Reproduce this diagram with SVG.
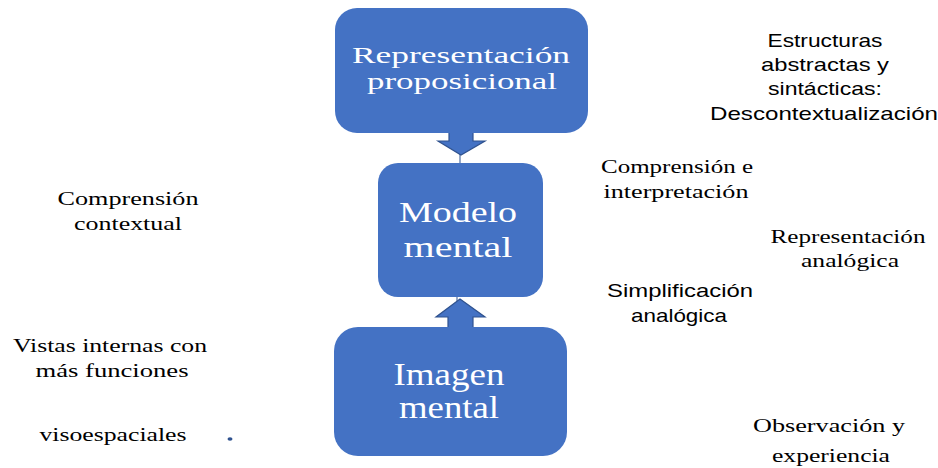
<svg xmlns="http://www.w3.org/2000/svg" width="938" height="468" viewBox="0 0 938 468">
<style>
.box{fill:#4472C4}
.bt{font-family:'Liberation Serif','Times New Roman','DejaVu Serif',serif;fill:#fff;text-anchor:middle}
.arr{fill:#4472C4;stroke:#2F528F;stroke-width:1.2}
.ln{stroke:#2F528F;stroke-width:1}
.st{font-family:'Liberation Serif','Times New Roman','DejaVu Serif',serif;font-size:19px;fill:#000;text-anchor:middle}
.ss{font-family:'Liberation Sans',Arial,sans-serif;font-size:19px;fill:#000;text-anchor:middle}
</style>
<rect width="938" height="468" fill="#fff"/>
<g id="connectors">
<line class="ln" x1="460" y1="154" x2="460" y2="164"/>
<polygon class="arr" points="449,125 473,125 473,141 485,141 461,155 438,141 449,141"/>
<line class="ln" x1="457" y1="296" x2="457" y2="301"/>
<polygon class="arr" points="448,333 473,333 473,317 485,317 460,299 436,317 448,317"/>
</g>
<g id="node-proposicional">
<rect class="box" x="335" y="8" width="253" height="125" rx="22"/>
<text class="bt" x="461" y="63" font-size="24" textLength="218" lengthAdjust="spacingAndGlyphs">Representación</text>
<text class="bt" x="462" y="89" font-size="24" textLength="190" lengthAdjust="spacingAndGlyphs">proposicional</text>
</g>
<g id="node-modelo">
<rect class="box" x="378" y="163" width="165" height="134" rx="20"/>
<text class="bt" x="458" y="222" font-size="30" textLength="118" lengthAdjust="spacingAndGlyphs">Modelo</text>
<text class="bt" x="458" y="257" font-size="30" textLength="109" lengthAdjust="spacingAndGlyphs">mental</text>
</g>
<g id="node-imagen">
<rect class="box" x="334" y="327" width="233" height="129" rx="24"/>
<text class="bt" x="449" y="385" font-size="31" textLength="111" lengthAdjust="spacingAndGlyphs">Imagen</text>
<text class="bt" x="449" y="418" font-size="31" textLength="100" lengthAdjust="spacingAndGlyphs">mental</text>
</g>
<g id="label-estructuras">
<text class="ss" x="825" y="47" textLength="115" lengthAdjust="spacingAndGlyphs">Estructuras</text>
<text class="ss" x="825" y="71" textLength="128" lengthAdjust="spacingAndGlyphs">abstractas y</text>
<text class="ss" x="825" y="95" textLength="114" lengthAdjust="spacingAndGlyphs">sintácticas:</text>
<text class="ss" x="824" y="120" textLength="228" lengthAdjust="spacingAndGlyphs">Descontextualización</text>
</g>
<g id="label-comprension-interpretacion">
<text class="st" x="677" y="173" textLength="152" lengthAdjust="spacingAndGlyphs">Comprensión e</text>
<text class="st" x="676" y="198" textLength="145" lengthAdjust="spacingAndGlyphs">interpretación</text>
</g>
<g id="label-representacion-analogica">
<text class="st" x="848" y="243" textLength="155" lengthAdjust="spacingAndGlyphs">Representación</text>
<text class="st" x="850" y="267" textLength="98" lengthAdjust="spacingAndGlyphs">analógica</text>
</g>
<g id="label-simplificacion">
<text class="ss" x="680" y="297" textLength="146" lengthAdjust="spacingAndGlyphs">Simplificación</text>
<text class="ss" x="679" y="322" textLength="96" lengthAdjust="spacingAndGlyphs">analógica</text>
</g>
<g id="label-comprension-contextual">
<text class="st" x="128" y="205" textLength="141" lengthAdjust="spacingAndGlyphs">Comprensión</text>
<text class="st" x="128" y="230" textLength="108" lengthAdjust="spacingAndGlyphs">contextual</text>
</g>
<g id="label-vistas">
<text class="st" x="110" y="352" textLength="194" lengthAdjust="spacingAndGlyphs">Vistas internas con</text>
<text class="st" x="112" y="377" textLength="153" lengthAdjust="spacingAndGlyphs">más funciones</text>
<text class="st" x="113" y="441" textLength="147" lengthAdjust="spacingAndGlyphs">visoespaciales</text>
<ellipse cx="230" cy="439" rx="2.5" ry="1.8" fill="#2F528F"/>
</g>
<g id="label-observacion">
<text class="st" x="829" y="432" textLength="152" lengthAdjust="spacingAndGlyphs">Observación y</text>
<text class="st" x="831" y="462" textLength="118" lengthAdjust="spacingAndGlyphs">experiencia</text>
</g>
</svg>
